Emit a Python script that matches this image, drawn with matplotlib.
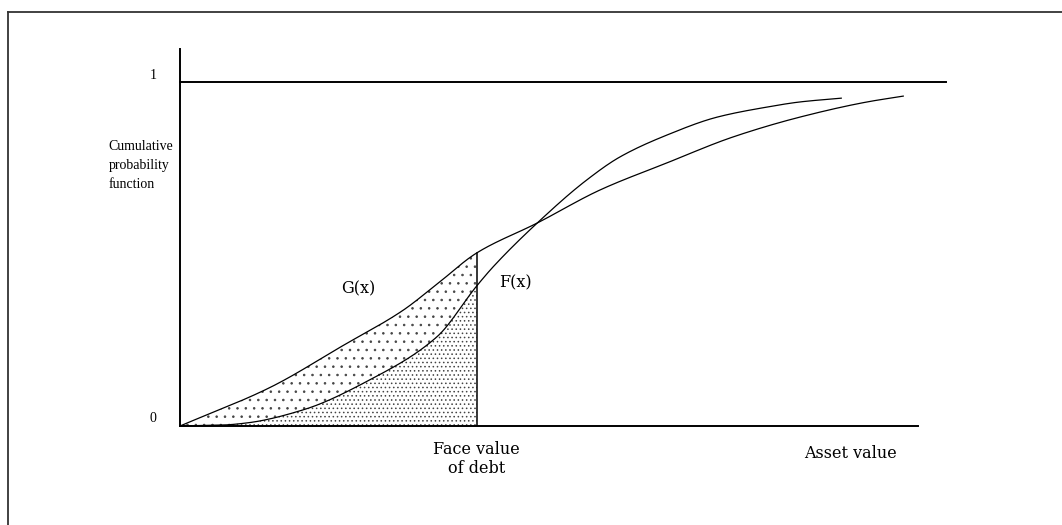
import numpy as np
import matplotlib.pyplot as plt
from matplotlib.lines import Line2D

plt.rcParams['font.family'] = ['Liberation Serif', 'DejaVu Serif']
plt.rcParams['hatch.linewidth'] = 0.6

# curve values (asset value on 0..10, probability 0..1)
g_x = [0, 1.22, 2.21, 3.02, 3.48, 4.02, 4.84, 5.69, 6.60, 7.49, 8.40, 9.31, 9.80]
g_y = [0, 0.112, 0.234, 0.336, 0.412, 0.503, 0.590, 0.686, 0.765, 0.840, 0.898, 0.942, 0.959]
f_x = [0, 0.6, 0.91, 1.67, 2.57, 3.48, 4.02, 4.24, 4.84, 5.51, 5.96, 6.60, 7.28, 7.95, 8.40, 8.96]
f_y = [0, 0.003, 0.009, 0.047, 0.134, 0.259, 0.407, 0.462, 0.590, 0.715, 0.782, 0.846, 0.898, 0.927, 0.942, 0.953]
face_value = 4.02
x_end = 10.0
one_line_end = 10.38
y_axis_top = 1.096


def pchip(x, y, xs):
    # monotone cubic through the read points, just to draw smooth curves
    x = np.asarray(x, float)
    y = np.asarray(y, float)
    h = np.diff(x)
    d = np.diff(y) / h
    m = np.zeros_like(y)
    for k in range(1, len(x) - 1):
        if d[k - 1] * d[k] > 0:
            w1 = 2 * h[k] + h[k - 1]
            w2 = h[k] + 2 * h[k - 1]
            m[k] = (w1 + w2) / (w1 / d[k - 1] + w2 / d[k])
    m[0] = d[0]
    m[-1] = d[-1]
    i = np.clip(np.searchsorted(x, xs) - 1, 0, len(x) - 2)
    t = (xs - x[i]) / h[i]
    h00 = 2 * t**3 - 3 * t**2 + 1
    h10 = t**3 - 2 * t**2 + t
    h01 = -2 * t**3 + 3 * t**2
    h11 = t**3 - t**2
    return h00 * y[i] + h10 * h[i] * m[i] + h01 * y[i + 1] + h11 * h[i] * m[i + 1]


W, H = 1062, 525
fig = plt.figure(figsize=(W / 100, H / 100), dpi=100)
ax = fig.add_axes([180 / W, (H - 426) / H, 738 / W, 344 / H])
ax.set_xlim(0, x_end)
ax.set_ylim(0, 1)
ax.axis('off')

# outer frame (only top and left edges are in view)
fig.add_artist(Line2D([8 / W, 8 / W], [0, 1 - 12 / H], color='#333333', lw=1.3))
fig.add_artist(Line2D([8 / W, 1], [1 - 12 / H, 1 - 12 / H], color='#333333', lw=1.3))

# axes
ax.plot([0, 0], [0, y_axis_top], color='black', lw=1.4, clip_on=False)
ax.plot([0, x_end], [0, 0], color='black', lw=1.4, clip_on=False)
ax.plot([0, one_line_end], [1, 1], color='black', lw=1.4, clip_on=False)

# shaded areas up to face value of debt
xs = np.linspace(0, face_value, 300)
gi = pchip(g_x, g_y, xs)
fi = pchip(f_x, f_y, xs)
ax.fill_between(xs, fi, gi, facecolor='none', edgecolor='#444444', hatch='..', lw=0)
ax.fill_between(xs, 0, fi, facecolor='none', edgecolor='#444444', hatch='....', lw=0)

# curves
gx = np.linspace(g_x[0], g_x[-1], 400)
fx = np.linspace(f_x[0], f_x[-1], 400)
ax.plot(gx, pchip(g_x, g_y, gx), color='black', lw=0.9, clip_on=False)
ax.plot(fx, pchip(f_x, f_y, fx), color='black', lw=0.9, clip_on=False)
ax.plot([face_value, face_value], [0, np.interp(face_value, g_x, g_y)], color='black', lw=1.1)

# labels
fs = 10
big = dict(fontsize=11.5, family=['DejaVu Serif'])
ax.text(-0.32, 1.02, '1', ha='right', va='center', fontsize=fs)
ax.text(-0.32, 0.023, '0', ha='right', va='center', fontsize=fs)
ax.text(-0.97, 0.83, 'Cumulative\nprobability\nfunction', ha='left', va='top',
        fontsize=fs, linespacing=1.6)
ax.text(2.42, 0.398, 'G(x)', ha='center', va='center', **big)
ax.text(4.54, 0.415, 'F(x)', ha='center', va='center', **big)
ax.text(face_value, -0.045, 'Face value\nof debt', ha='center', va='top',
        linespacing=1.15, **big)
ax.text(9.09, -0.055, 'Asset value', ha='center', va='top', **big)

fig.savefig('out.png', dpi=100, facecolor='white')
